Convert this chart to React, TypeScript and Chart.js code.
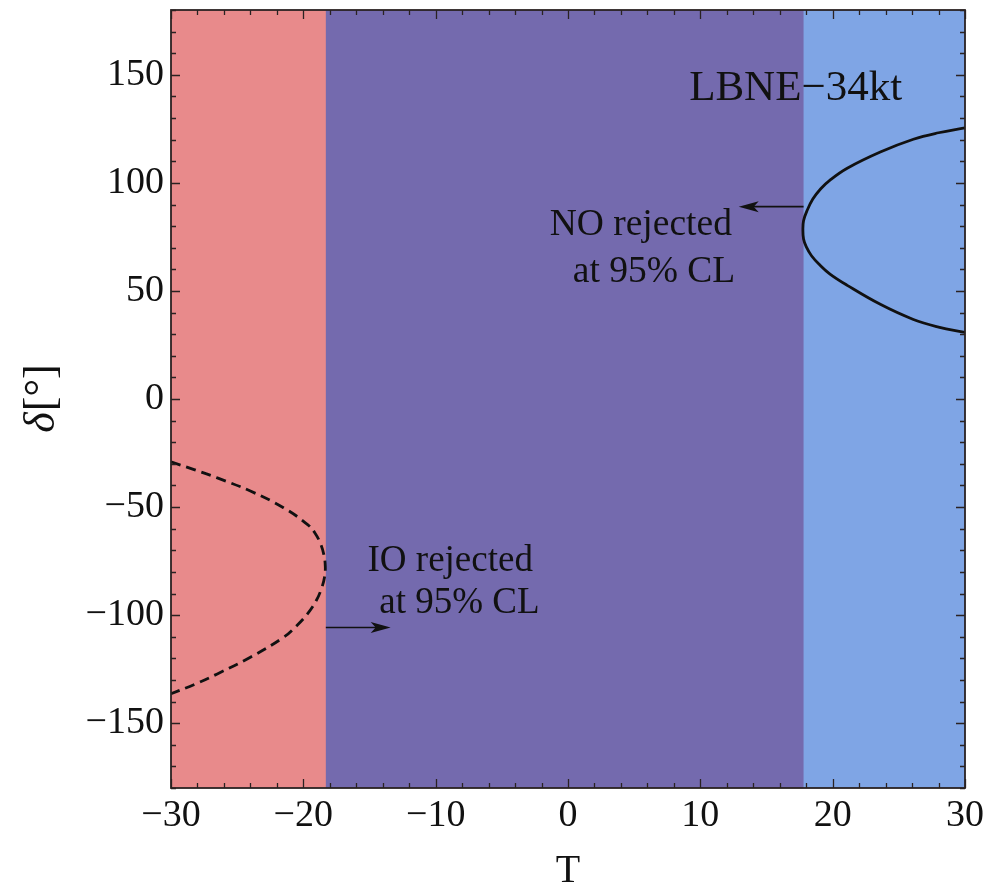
import React, { useEffect, useRef } from "react";
import { Chart, registerables } from "chart.js";

Chart.register(...registerables);

// Axis ranges and tick spacing
const T_MIN = -30;
const T_MAX = 30;
const DELTA_MIN = -180;
const DELTA_MAX = 180;
const T_MAJOR = 10;
const T_MINOR = 2;
const DELTA_MAJOR = 50;
const DELTA_MINOR = 10;

// Labelled tick values
const tTicks = [-30, -20, -10, 0, 10, 20, 30];
const deltaTicks = [-150, -100, -50, 0, 50, 100, 150];

// Band edges: IO rejected for T below IO_EDGE, NO rejected for T above NO_EDGE
const IO_EDGE = -18.3;
const NO_EDGE = 17.8;

// NO 95% CL contour (solid)
const noT = [30, 28.0, 26.1, 23.6, 21.1, 19.8, 19.1, 18.5, 18.05, 17.8, 17.75, 17.8, 18.0, 18.4, 19.0, 19.8, 21.1, 23.6, 26.1, 28.0, 30];
const noDelta = [125.5, 123.2, 120.2, 114.3, 106.8, 101.3, 97.3, 92.5, 87.0, 82.5, 78.3, 74.0, 70.5, 66.3, 62.2, 57.8, 52.6, 43.8, 36.8, 33.3, 30.8];

// IO 95% CL contour (dashed)
const ioT = [-30, -28.2, -26.5, -24.0, -21.5, -19.7, -19.1, -18.7, -18.45, -18.34, -18.4, -18.6, -19.0, -19.7, -20.5, -21.5, -24.0, -26.5, -28.2, -30];
const ioDelta = [-29.1, -32.8, -36.5, -42.6, -50.3, -58.0, -62.2, -67.0, -72.0, -77.5, -82.5, -87.2, -93.0, -99.5, -104.9, -110.3, -119.5, -127.2, -132.0, -136.4];

// Arrows: [T from, T to, delta]
const noArrow = [NO_EDGE, 12.9, 89];
const ioArrow = [IO_EDGE, -13.4, -105.7];

// Annotation text and anchor (T, delta of baseline centre)
const noLabel = ["NO rejected", "at 95% CL"];
const noLabelPos = [[5.5, 76.0], [6.5, 54.3]];
const ioLabel = ["IO rejected", "at 95% CL"];
const ioLabelPos = [[-8.9, -79.5], [-8.2, -98.8]];
const experiment = "LBNE\u221234kt";
const experimentPos = [17.2, 138.5];

const xTitle = "T";
const yTitleSymbol = "\u03b4";
const yTitleUnit = "[\u00b0]";

const COLORS = {
  io: "#e88a8b",
  both: "#746aae",
  no: "#7fa5e5",
  frame: "#2a2222",
  ink: "#111111",
};

const SERIF = "'Liberation Serif', 'Times New Roman', serif";

const toPoints = (xs: number[], ys: number[]) => xs.map((x, i) => ({ x, y: ys[i] }));

const minusSign = (v: number) => (v < 0 ? "\u2212" + Math.abs(v) : String(v));

const bandsPlugin = {
  id: "bands",
  beforeDatasetsDraw(chart: any) {
    const { ctx, chartArea: a, scales } = chart;
    const xs = scales.x;
    ctx.save();
    ctx.fillStyle = COLORS.both;
    ctx.fillRect(a.left, a.top, a.right - a.left, a.bottom - a.top);
    const ioR = xs.getPixelForValue(IO_EDGE);
    ctx.fillStyle = COLORS.io;
    ctx.fillRect(a.left, a.top, ioR - a.left, a.bottom - a.top);
    const noL = xs.getPixelForValue(NO_EDGE);
    ctx.fillStyle = COLORS.no;
    ctx.fillRect(noL, a.top, a.right - noL, a.bottom - a.top);
    ctx.restore();
  },
};

const drawArrow = (ctx: CanvasRenderingContext2D, x0: number, x1: number, y: number) => {
  const dir = Math.sign(x1 - x0);
  const head = 20;
  const half = 5.5;
  ctx.beginPath();
  ctx.moveTo(x0, y);
  ctx.lineTo(x1 - dir * head * 0.6, y);
  ctx.lineWidth = 1.6;
  ctx.strokeStyle = COLORS.ink;
  ctx.stroke();
  ctx.beginPath();
  ctx.moveTo(x1, y);
  ctx.lineTo(x1 - dir * head, y - half);
  ctx.lineTo(x1 - dir * head * 0.75, y);
  ctx.lineTo(x1 - dir * head, y + half);
  ctx.closePath();
  ctx.fillStyle = COLORS.ink;
  ctx.fill();
};

const framePlugin = {
  id: "frame",
  afterDatasetsDraw(chart: any) {
    const { ctx, chartArea: a, scales } = chart;
    const xs = scales.x;
    const ys = scales.y;
    ctx.save();

    // arrows
    drawArrow(ctx, xs.getPixelForValue(noArrow[0]), xs.getPixelForValue(noArrow[1]), ys.getPixelForValue(noArrow[2]));
    drawArrow(ctx, xs.getPixelForValue(ioArrow[0]), xs.getPixelForValue(ioArrow[1]), ys.getPixelForValue(ioArrow[2]));

    // annotations
    ctx.fillStyle = COLORS.ink;
    ctx.textAlign = "center";
    ctx.textBaseline = "alphabetic";
    ctx.font = `37.5px ${SERIF}`;
    noLabel.forEach((s, i) => {
      ctx.fillText(s, xs.getPixelForValue(noLabelPos[i][0]), ys.getPixelForValue(noLabelPos[i][1]));
    });
    ctx.font = `37px ${SERIF}`;
    ioLabel.forEach((s, i) => {
      ctx.fillText(s, xs.getPixelForValue(ioLabelPos[i][0]), ys.getPixelForValue(ioLabelPos[i][1]));
    });
    ctx.font = `43px ${SERIF}`;
    ctx.fillText(experiment, xs.getPixelForValue(experimentPos[0]), ys.getPixelForValue(experimentPos[1]));

    // frame ticks, inward on all four sides
    ctx.strokeStyle = COLORS.frame;
    ctx.lineWidth = 1.3;
    ctx.beginPath();
    for (let t = T_MIN; t <= T_MAX; t += T_MINOR) {
      const px = Math.round(xs.getPixelForValue(t)) + 0.5;
      const len = t % T_MAJOR === 0 ? 9 : 5;
      ctx.moveTo(px, a.bottom);
      ctx.lineTo(px, a.bottom - len);
      ctx.moveTo(px, a.top);
      ctx.lineTo(px, a.top + len);
    }
    for (let d = DELTA_MIN; d <= DELTA_MAX; d += DELTA_MINOR) {
      const py = Math.round(ys.getPixelForValue(d)) + 0.5;
      const len = d % DELTA_MAJOR === 0 ? 9 : 5;
      ctx.moveTo(a.left, py);
      ctx.lineTo(a.left + len, py);
      ctx.moveTo(a.right, py);
      ctx.lineTo(a.right - len, py);
    }
    ctx.stroke();
    ctx.lineWidth = 1.8;
    ctx.strokeRect(a.left, a.top, a.right - a.left, a.bottom - a.top);

    // axis titles
    ctx.fillStyle = COLORS.ink;
    ctx.font = `40px ${SERIF}`;
    ctx.textAlign = "center";
    ctx.textBaseline = "alphabetic";
    ctx.fillText(xTitle, (a.left + a.right) / 2, 882);

    ctx.translate(54, (a.top + a.bottom) / 2);
    ctx.rotate(-Math.PI / 2);
    ctx.font = `italic 44px ${SERIF}`;
    const w1 = ctx.measureText(yTitleSymbol).width;
    ctx.font = `44px ${SERIF}`;
    const w2 = ctx.measureText(yTitleUnit).width;
    const start = -(w1 + w2) / 2;
    ctx.textAlign = "left";
    ctx.font = `italic 44px ${SERIF}`;
    ctx.fillText(yTitleSymbol, start, 0);
    ctx.font = `44px ${SERIF}`;
    ctx.fillText(yTitleUnit, start + w1 + 1, 0);
    ctx.restore();
  },
};

export default function App() {
  const canvasRef = useRef<HTMLCanvasElement | null>(null);

  useEffect(() => {
    const canvas = canvasRef.current;
    if (!canvas) return;
    const chart = new Chart(canvas, {
      type: "scatter",
      data: {
        datasets: [
          {
            label: "NO",
            data: toPoints(noT, noDelta),
            showLine: true,
            borderColor: COLORS.ink,
            borderWidth: 2.8,
            pointRadius: 0,
            tension: 0.4,
          },
          {
            label: "IO",
            data: toPoints(ioT, ioDelta),
            showLine: true,
            borderColor: COLORS.ink,
            borderWidth: 2.8,
            borderDash: [10, 6],
            pointRadius: 0,
            tension: 0.4,
          },
        ],
      },
      options: {
        animation: false,
        responsive: true,
        maintainAspectRatio: false,
        layout: { padding: { top: 10, right: 38, left: 0, bottom: 0 } },
        plugins: { legend: { display: false }, tooltip: { enabled: false } },
        scales: {
          x: {
            type: "linear",
            min: T_MIN,
            max: T_MAX,
            grid: { display: false, drawTicks: false },
            border: { display: false },
            afterBuildTicks: (s: any) => {
              s.ticks = tTicks.map((value) => ({ value }));
            },
            ticks: {
              padding: 5,
              color: COLORS.ink,
              font: { family: SERIF, size: 38 },
              maxRotation: 0,
              autoSkip: false,
              callback: (v: any) => minusSign(Number(v)),
            },
            afterFit: (s: any) => {
              s.height = 104;
              s.paddingLeft = 0;
              s.paddingRight = 0;
            },
          },
          y: {
            type: "linear",
            min: DELTA_MIN,
            max: DELTA_MAX,
            grid: { display: false, drawTicks: false },
            border: { display: false },
            afterBuildTicks: (s: any) => {
              s.ticks = deltaTicks.map((value) => ({ value }));
            },
            ticks: {
              padding: 7,
              color: COLORS.ink,
              font: { family: SERIF, size: 38 },
              autoSkip: false,
              callback: (v: any) => minusSign(Number(v)),
            },
            afterFit: (s: any) => {
              s.width = 171;
              s.paddingTop = 0;
              s.paddingBottom = 0;
            },
          },
        },
      },
      plugins: [bandsPlugin, framePlugin],
    });
    return () => chart.destroy();
  }, []);

  return (
    <div style={{ position: "absolute", left: 0, top: 0, width: 1003, height: 892, background: "#fff" }}>
      <canvas ref={canvasRef} />
    </div>
  );
}
